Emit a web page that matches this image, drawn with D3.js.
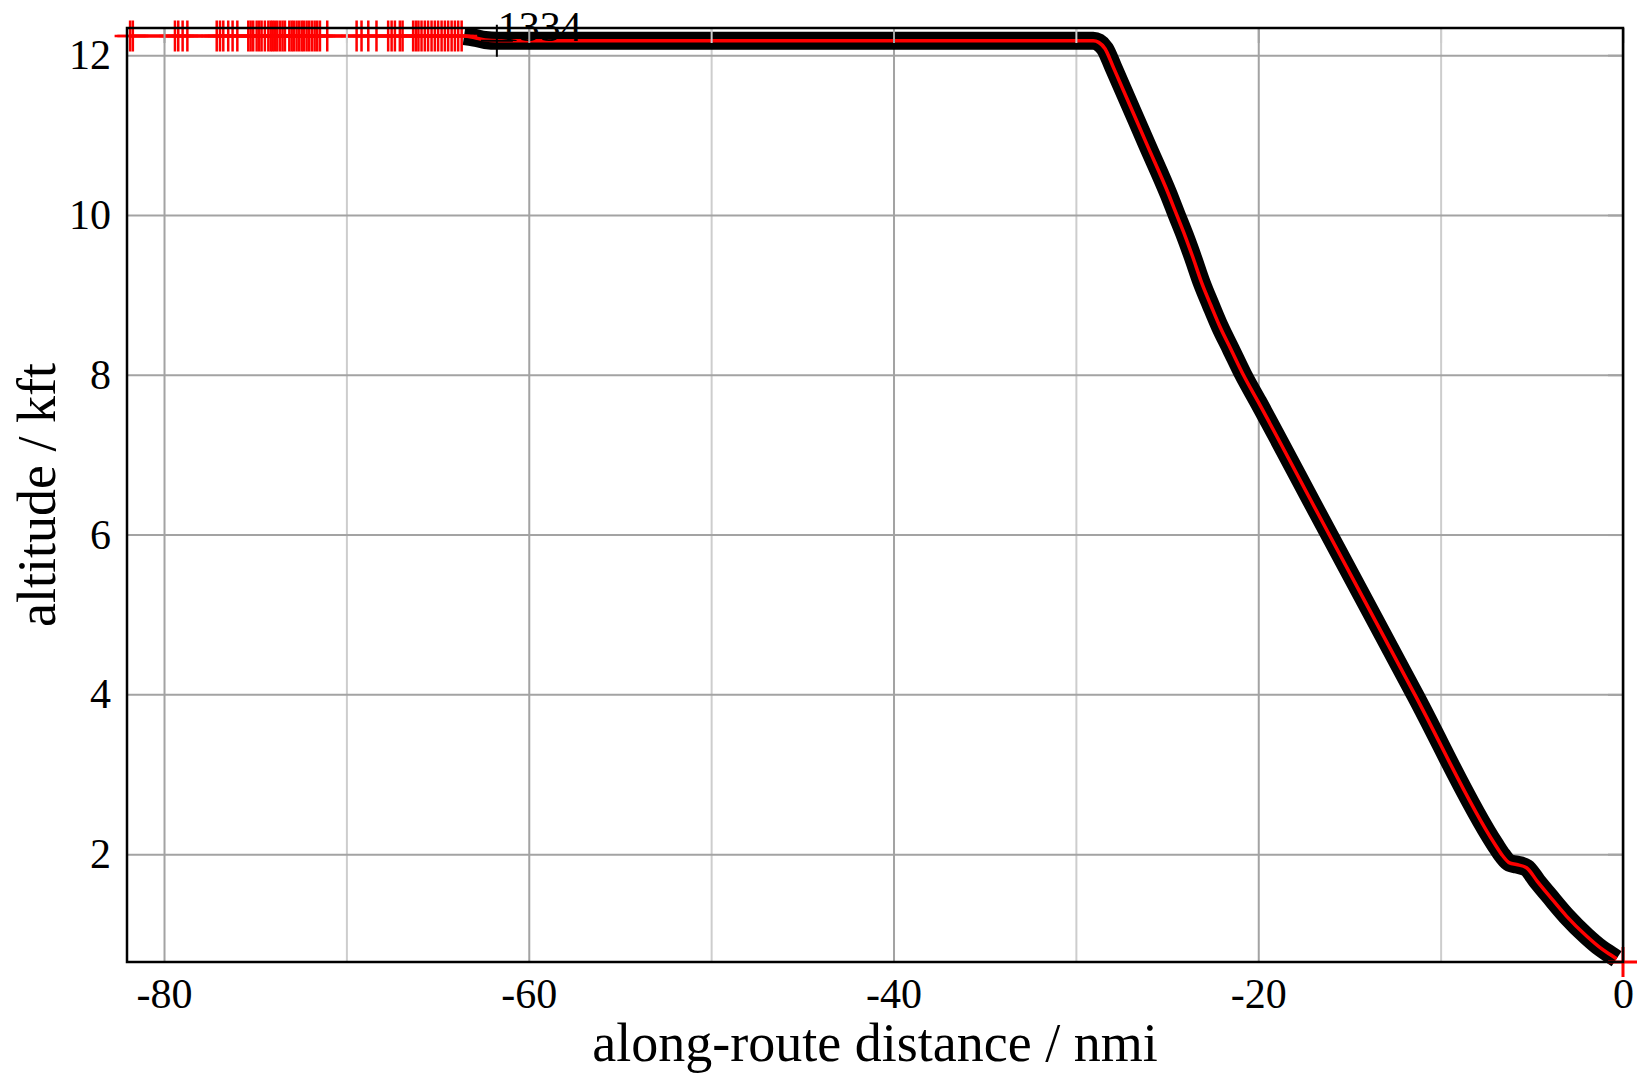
<!DOCTYPE html>
<html><head><meta charset="utf-8">
<script src="https://cdn.jsdelivr.net/npm/d3@7"></script>
<style>
body{margin:0;background:#fff}
svg{display:block}
text{font-family:"Liberation Serif","Times New Roman",serif;fill:#000}
</style>
</head><body>
<svg id="chart" width="1637" height="1075"></svg>
<script>
// ---- data ----
const xMajorTicks = [-80, -60, -40, -20, 0];
const xMinorTicks = [-70, -50, -30, -10];
const yTicks = [2, 4, 6, 8, 10, 12];
const xTitle = "along-route distance / nmi";
const yTitle = "altitude / kft";

const profileDist = [-81.9, -63.55, -63.0, -62.4, -61.7, -29.05, -28.75, -28.4, -27.95, -26.1, -24.9, -24.47, -24.0, -23.6, -23.1, -22.6, -22.1, -21.5, -20.82, -20.0, -16.72, -11.42, -7.04, -6.6, -6.22, -5.84, -5.29, -4.7, -4.03, -3.1, -2.0, -1.2, -0.58, -0.35];
const profileAlt  = [12.24, 12.24, 12.22, 12.19, 12.18, 12.18, 12.16, 12.08, 11.85, 10.88, 10.25, 10.0, 9.73, 9.48, 9.15, 8.87, 8.6, 8.32, 8.0, 7.66, 6.26, 4.0, 2.13, 1.98, 1.89, 1.87, 1.83, 1.66, 1.475, 1.225, 0.975, 0.82, 0.725, 0.69];
const thickStartDist = -63.55;

const markerDist = [-81.86, -81.71, -79.40, -79.22, -78.98, -78.72, -77.11, -76.93, -76.75, -76.48, -76.24, -75.98, -75.38, -75.25, -75.11, -74.92, -74.78, -74.65, -74.47, -74.28, -74.15, -74.04, -73.92, -73.79, -73.64, -73.50, -73.37, -73.13, -73.00, -72.88, -72.73, -72.59, -72.45, -72.33, -72.18, -72.04, -71.89, -71.74, -71.60, -71.45, -71.05, -69.44, -69.17, -68.80, -68.35, -67.71, -67.52, -67.34, -67.07, -66.92, -66.34, -66.19, -66.05, -65.88, -65.70, -65.52, -65.33, -65.15, -64.97, -64.78, -64.60, -64.42, -64.23, -64.05, -63.87, -63.68];
const markerAlt = 12.24;
const endMarkerDist = [0];
const endMarkerAlt = [0.65];

const waypointDist = [-61.75];
const waypointAlt = [12.18];
const waypointLabel = ["1334"];

// ---- layout ----
const W = 1637, H = 1075;
const L = 127, R = 1623, T = 28, B = 962;
const svg = d3.select("#chart");
svg.append("rect").attr("width", W).attr("height", H).attr("fill", "#fff");

const x = d3.scaleLinear().domain([-82.03, 0]).range([L, R]);
const y = d3.scaleLinear().domain([0.65, 12.34]).range([B, T]);

const majorCol = "#a3a3a3", minorCol = "#cdcdcd";

// grid
function grid(g, axis, col) {
  g.call(axis);
  g.select(".domain").remove();
  g.selectAll("text").remove();
  g.selectAll("line").attr("stroke", col).attr("stroke-width", 2);
}
svg.append("g").attr("transform", `translate(0,${B})`)
  .call(g => grid(g, d3.axisBottom(x).tickValues(xMinorTicks).tickSize(-(B - T)), minorCol));
svg.append("g").attr("transform", `translate(0,${B})`)
  .call(g => grid(g, d3.axisBottom(x).tickValues(xMajorTicks).tickSize(-(B - T)), majorCol));
svg.append("g").attr("transform", `translate(${L},0)`)
  .call(g => grid(g, d3.axisLeft(y).tickValues(yTicks).tickSize(-(R - L)), majorCol));

// data lines
const pts = profileDist.map((d, i) => [d, profileAlt[i]]);
const line = d3.line().x(d => x(d[0])).y(d => y(d[1])).curve(d3.curveMonotoneX);
svg.append("path").datum(pts.filter(d => d[0] >= thickStartDist))
  .attr("d", line).attr("fill", "none").attr("stroke", "#000")
  .attr("stroke-width", 18).attr("stroke-linejoin", "round").attr("stroke-linecap", "butt");
svg.append("path").datum(pts)
  .attr("d", line).attr("fill", "none").attr("stroke", "#ff0000")
  .attr("stroke-width", 3.5).attr("stroke-linejoin", "round").attr("stroke-linecap", "butt");

// red + markers
const plus = (px, py, s) => `M${px - s},${py}H${px + s}M${px},${py - s}V${py + s}`;
svg.append("g").selectAll("path").data(markerDist).join("path")
  .attr("d", d => plus(x(d), y(markerAlt), 15.5))
  .attr("stroke", "#ff0000").attr("stroke-width", 2.5).attr("fill", "none");
svg.append("g").selectAll("path").data(endMarkerDist).join("path")
  .attr("d", (d, i) => plus(x(d), y(endMarkerAlt[i]), 15))
  .attr("stroke", "#ff0000").attr("stroke-width", 3).attr("fill", "none");

// waypoint marker + label
svg.append("g").selectAll("path").data(waypointDist).join("path")
  .attr("d", (d, i) => plus(x(d), y(waypointAlt[i]), 16))
  .attr("stroke", "#000").attr("stroke-width", 2).attr("fill", "none");
svg.append("g").selectAll("text").data(waypointDist).join("text")
  .attr("x", d => x(d) + 1).attr("y", (d, i) => y(waypointAlt[i]))
  .attr("font-size", 42).text((d, i) => waypointLabel[i]);

// inward tick marks on all sides, drawn on top
function ticks(g, axis, col) {
  g.call(axis);
  g.select(".domain").remove();
  g.selectAll("text").remove();
  g.selectAll("line").attr("stroke", col).attr("stroke-width", 2);
}
svg.append("g").attr("transform", `translate(0,${T})`)
  .call(g => ticks(g, d3.axisTop(x).tickValues(xMinorTicks).tickSize(-15), minorCol));
svg.append("g").attr("transform", `translate(0,${T})`)
  .call(g => ticks(g, d3.axisTop(x).tickValues(xMajorTicks).tickSize(-15), majorCol));
svg.append("g").attr("transform", `translate(${R},0)`)
  .call(g => ticks(g, d3.axisRight(y).tickValues(yTicks).tickSize(-15), majorCol));

// frame
svg.append("rect").attr("x", L).attr("y", T).attr("width", R - L).attr("height", B - T)
  .attr("fill", "none").attr("stroke", "#000").attr("stroke-width", 2.5);

// tick labels
const xAxis = svg.append("g").attr("transform", `translate(0,${B})`)
  .call(d3.axisBottom(x).tickValues(xMajorTicks).tickSize(0).tickPadding(16).tickFormat(d3.format("d")));
xAxis.select(".domain").remove();
xAxis.selectAll("text").attr("font-size", 42).attr("font-family", "Liberation Serif").attr("fill", "#000");

const yAxis = svg.append("g").attr("transform", `translate(${L},0)`)
  .call(d3.axisLeft(y).tickValues(yTicks).tickSize(0).tickPadding(16).tickFormat(d3.format("d")));
yAxis.select(".domain").remove();
yAxis.selectAll("text").attr("font-size", 42).attr("font-family", "Liberation Serif").attr("fill", "#000");

// plain hyphen-minus as in reference
xAxis.selectAll("text").text(d => String(d));

// titles
svg.append("text").attr("x", (L + R) / 2).attr("y", 1061).attr("text-anchor", "middle")
  .attr("font-size", 54).text(xTitle);
svg.append("text").attr("transform", `translate(55,${(T + B) / 2}) rotate(-90)`)
  .attr("text-anchor", "middle").attr("font-size", 54).text(yTitle);
</script>
</body></html>
